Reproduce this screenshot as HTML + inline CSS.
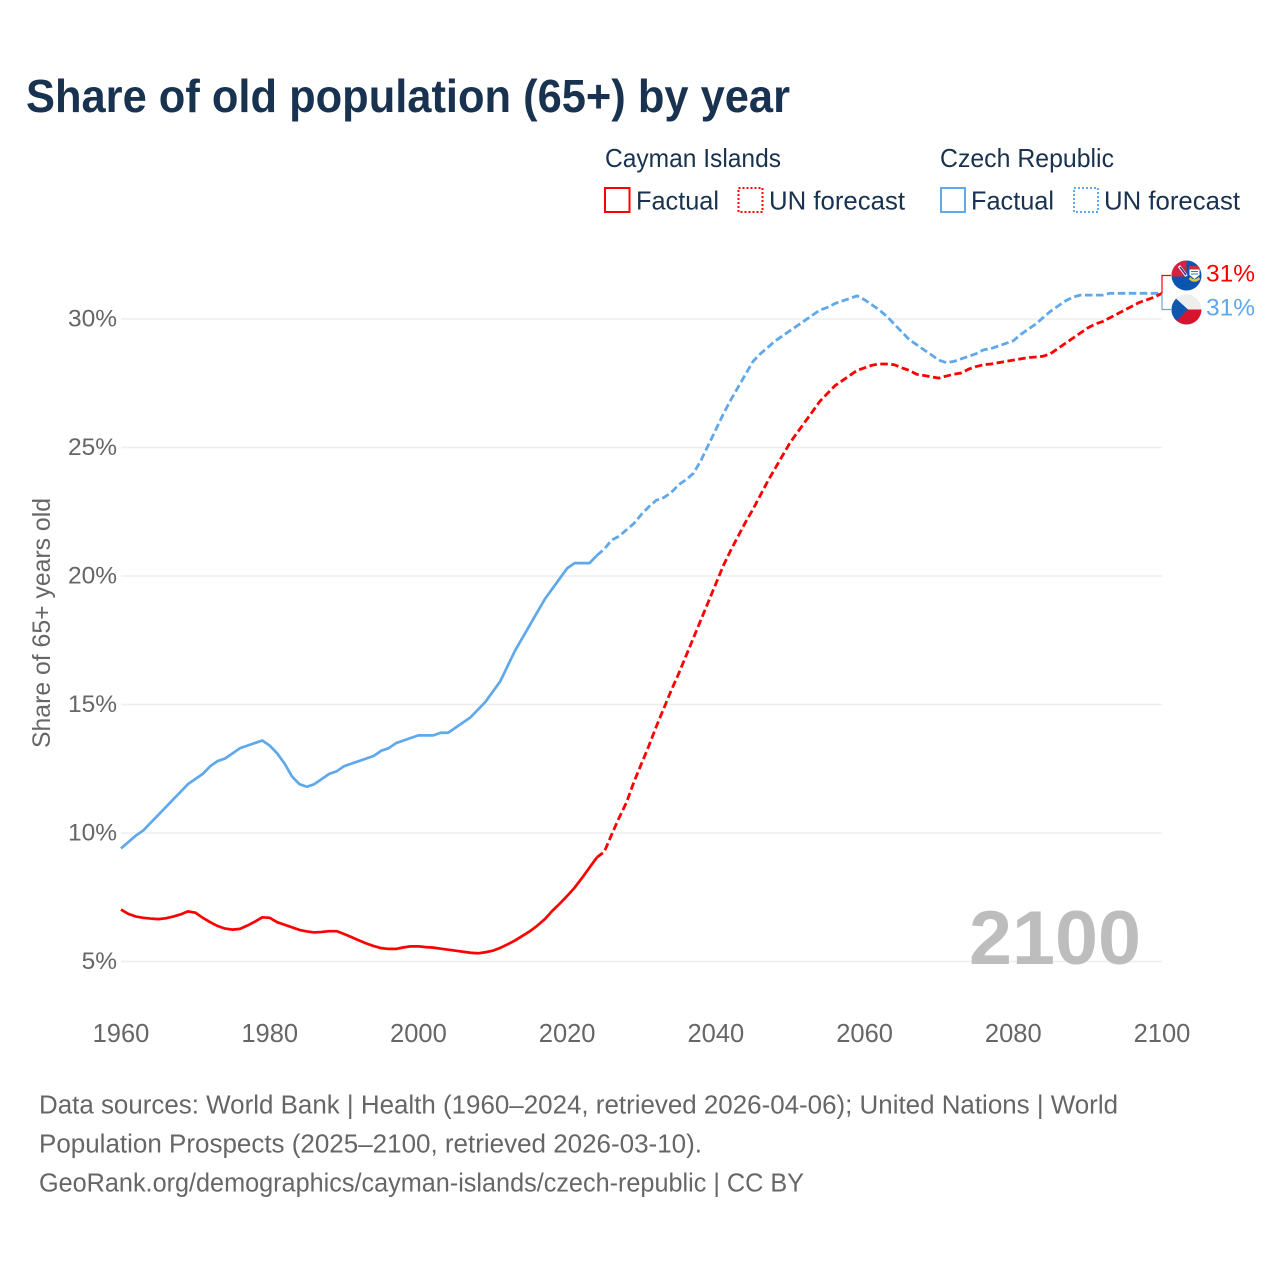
<!DOCTYPE html>
<html lang="en">
<head>
<meta charset="utf-8">
<title>Share of old population (65+) by year</title>
<style>
html,body{margin:0;padding:0;background:#fff;width:1280px;height:1280px;overflow:hidden}
svg{display:block}
text{font-family:"Liberation Sans",sans-serif}
</style>
</head>
<body>
<svg id="chart" width="1280" height="1280" viewBox="0 0 1280 1280" xmlns="http://www.w3.org/2000/svg">
  <rect width="1280" height="1280" fill="#fff"/>
  <text x="26" y="112" font-size="46" font-weight="700" fill="#18324f" textLength="764" lengthAdjust="spacingAndGlyphs">Share of old population (65+) by year</text>

  <g font-size="26" fill="#18324f">
    <text x="605" y="167" textLength="176" lengthAdjust="spacingAndGlyphs">Cayman Islands</text>
    <rect x="605" y="188" width="24.5" height="24" fill="none" stroke="#ff0000" stroke-width="2"/>
    <text x="636" y="209.5" textLength="83" lengthAdjust="spacingAndGlyphs">Factual</text>
    <rect x="738.5" y="188" width="24" height="24" fill="none" stroke="#ff0000" stroke-width="2" stroke-dasharray="2 2"/>
    <text x="769" y="209.5" textLength="136" lengthAdjust="spacingAndGlyphs">UN forecast</text>

    <text x="940" y="167" textLength="174" lengthAdjust="spacingAndGlyphs">Czech Republic</text>
    <rect x="941" y="188" width="24" height="24" fill="none" stroke="#5fa8ec" stroke-width="2"/>
    <text x="971" y="209.5" textLength="83" lengthAdjust="spacingAndGlyphs">Factual</text>
    <rect x="1074" y="188" width="24" height="24" fill="none" stroke="#5fa8ec" stroke-width="2" stroke-dasharray="2 2"/>
    <text x="1104" y="209.5" textLength="136" lengthAdjust="spacingAndGlyphs">UN forecast</text>
  </g>

  <g id="grid"></g>
  <g id="y-ticks"></g>
  <g id="x-ticks"></g>
  <text transform="translate(50,748) rotate(-90)" x="0" y="0" font-size="25" fill="#666" textLength="250" lengthAdjust="spacingAndGlyphs">Share of 65+ years old</text>

  <text x="969" y="964" font-size="76" font-weight="700" fill="#bdbdbd" textLength="172" lengthAdjust="spacingAndGlyphs">2100</text>

  <g id="series"></g>
  <g id="connectors"></g>

  <defs>
    <clipPath id="flag-clip-top"><circle cx="1186.5" cy="275.5" r="15"/></clipPath>
    <clipPath id="flag-clip-bottom"><circle cx="1186.5" cy="309.5" r="15"/></clipPath>
  </defs>
  <g clip-path="url(#flag-clip-top)">
    <rect x="1171" y="260" width="32" height="32" fill="#0a55b0"/>
    <rect x="1171" y="260" width="15.5" height="16.5" fill="#d8213f"/>
    <path d="M1179 266 L1186.5 276" stroke="#fff" stroke-width="3"/>
    <path d="M1180 267 L1186 275" stroke="#2b3f8f" stroke-width="1.5"/>
    <rect x="1189" y="266" width="11" height="3.5" fill="#c8333f"/>
    <path d="M1189.5 269.5 H1199.5 V275 L1194.5 279 L1189.5 275 Z" fill="#fff"/>
    <path d="M1191 271.5 H1198 M1191 274 H1198" stroke="#3a78c0" stroke-width="1.1"/>
    <path d="M1189.5 278 Q1194.5 283 1199.5 278" fill="none" stroke="#e9c43c" stroke-width="2.4"/>
  </g>
  <g clip-path="url(#flag-clip-bottom)">
    <rect x="1171" y="294" width="32" height="15.5" fill="#eeeeee"/>
    <rect x="1171" y="309.5" width="32" height="16" fill="#d7142f"/>
    <path d="M1171 294 L1188 309.5 L1171 326 Z" fill="#0f56b3"/>
  </g>

  <g id="end-labels"></g>

  <g font-size="25.5" fill="#666">
    <text x="39" y="1113.5" textLength="1079" lengthAdjust="spacingAndGlyphs">Data sources: World Bank | Health (1960–2024, retrieved 2026-04-06); United Nations | World</text>
    <text x="39" y="1152.5" textLength="663" lengthAdjust="spacingAndGlyphs">Population Prospects (2025–2100, retrieved 2026-03-10).</text>
    <text x="39" y="1191.5" textLength="765" lengthAdjust="spacingAndGlyphs">GeoRank.org/demographics/cayman-islands/czech-republic | CC BY</text>
  </g>
</svg>

<script>
const firstFactualYear = 1960;
const firstForecastYear = 2024;
const xTickYears = [1960, 1980, 2000, 2020, 2040, 2060, 2080, 2100];
const yTickValues = [5, 10, 15, 20, 25, 30];

const caymanFactual = [
  7.02, 6.85, 6.75, 6.70, 6.67, 6.65, 6.68, 6.75, 6.83, 6.95,
  6.90, 6.70, 6.53, 6.38, 6.28, 6.24, 6.27, 6.40, 6.55, 6.72,
  6.70, 6.53, 6.43, 6.33, 6.23, 6.17, 6.13, 6.15, 6.18, 6.18,
  6.07, 5.95, 5.82, 5.70, 5.60, 5.52, 5.49, 5.49, 5.55, 5.59,
  5.59, 5.56, 5.54, 5.50, 5.46, 5.42, 5.38, 5.34, 5.32, 5.36,
  5.42, 5.53, 5.67, 5.82, 6.00, 6.18, 6.40, 6.65, 6.97, 7.25,
  7.55, 7.87, 8.25, 8.65, 9.05
];
const caymanForecast = [
  9.05, 9.27, 9.95, 10.6, 11.2, 12.0, 12.7, 13.4, 14.15, 14.85,
  15.55, 16.2, 16.9, 17.6, 18.3, 19.0, 19.7, 20.4, 21.0, 21.55,
  22.1, 22.6, 23.15, 23.7, 24.2, 24.7, 25.2, 25.6, 26.0, 26.4,
  26.8, 27.1, 27.4, 27.6, 27.8, 28.0, 28.1, 28.2, 28.25, 28.25,
  28.22, 28.1, 28.0, 27.85, 27.8, 27.75, 27.7, 27.78, 27.85, 27.9,
  28.05, 28.15, 28.22, 28.25, 28.3, 28.35, 28.4, 28.45, 28.5, 28.52,
  28.55, 28.65, 28.85, 29.05, 29.25, 29.45, 29.65, 29.8, 29.9, 30.05,
  30.2, 30.35, 30.5, 30.65, 30.75, 30.85, 31.0
];
const czechFactual = [
  9.4, 9.65, 9.9, 10.1, 10.4, 10.7, 11.0, 11.3, 11.6, 11.9,
  12.1, 12.3, 12.6, 12.8, 12.9, 13.1, 13.3, 13.4, 13.5, 13.6,
  13.4, 13.1, 12.7, 12.2, 11.9, 11.8, 11.9, 12.1, 12.3, 12.4,
  12.6, 12.7, 12.8, 12.9, 13.0, 13.2, 13.3, 13.5, 13.6, 13.7,
  13.8, 13.8, 13.8, 13.9, 13.9, 14.1, 14.3, 14.5, 14.8, 15.1,
  15.5, 15.9, 16.5, 17.1, 17.6, 18.1, 18.6, 19.1, 19.5, 19.9,
  20.3, 20.5, 20.5, 20.5, 20.8
];
const czechForecast = [
  20.8, 21.05, 21.4, 21.55, 21.8, 22.05, 22.4, 22.7, 22.95, 23.05,
  23.25, 23.55, 23.75, 24.0, 24.5, 25.1, 25.7, 26.3, 26.85, 27.35,
  27.85, 28.35, 28.65, 28.9, 29.15, 29.35, 29.55, 29.75, 29.95, 30.15,
  30.35, 30.45, 30.6, 30.7, 30.8, 30.9, 30.75, 30.55, 30.35, 30.1,
  29.8, 29.5, 29.2, 29.0, 28.8, 28.6, 28.4, 28.3, 28.35, 28.45,
  28.55, 28.65, 28.8, 28.85, 28.95, 29.05, 29.15, 29.4, 29.6, 29.8,
  30.05, 30.3, 30.5, 30.7, 30.85, 30.93, 30.93, 30.93, 30.93, 31.0,
  31.0, 31.0, 31.0, 31.0, 31.0, 31.0, 31.0
];

const NS = 'http://www.w3.org/2000/svg';
const RED = '#ff0000';
const BLUE = '#5fa8ec';
const xScale = function (year) { return 121 + (year - 1960) * (1162 - 121) / 140; };
const yScale = function (value) { return 961.5 - (value - 5) * 25.7; };

function make(tag, parentId) {
  const el = document.createElementNS(NS, tag);
  document.getElementById(parentId).appendChild(el);
  return el;
}
function linePath(values, startYear) {
  return values.map(function (v, i) {
    return (i ? 'L' : 'M') + xScale(startYear + i).toFixed(2) + ' ' + yScale(v).toFixed(2);
  }).join(' ');
}
function addAttrs(el, attrs) {
  Object.keys(attrs).forEach(function (k) { el.setAttribute(k, attrs[k]); });
}

yTickValues.forEach(function (v) {
  const line = make('line', 'grid');
  
  
  addAttrs(line, { x1: xScale(1960), x2: xScale(2100), y1: yScale(v), y2: yScale(v), stroke: '#eeeeee', 'stroke-width': 1.5 });
  const label = make('text', 'y-ticks');
  
  
  addAttrs(label, { x: 117, y: yScale(v) + 7.5, 'text-anchor': 'end', 'font-size': 24.5, fill: '#666' });
  label.textContent = v + '%';
});

xTickYears.forEach(function (y) {
  const label = make('text', 'x-ticks');
  
  
  addAttrs(label, { x: xScale(y), y: 1042, 'text-anchor': 'middle', 'font-size': 25.5, fill: '#666' });
  label.textContent = y;
});

const czechFactualLine = make('path', 'series');


addAttrs(czechFactualLine, { d: linePath(czechFactual, firstFactualYear), fill: 'none', stroke: BLUE, 'stroke-width': 2.7, 'stroke-linejoin': 'round' });

const czechForecastLine = make('path', 'series');


addAttrs(czechForecastLine, { d: linePath(czechForecast, firstForecastYear), fill: 'none', stroke: BLUE, 'stroke-width': 2.8, 'stroke-dasharray': '7.5 3.5', 'stroke-linejoin': 'round' });

const caymanFactualLine = make('path', 'series');


addAttrs(caymanFactualLine, { d: linePath(caymanFactual, firstFactualYear), fill: 'none', stroke: RED, 'stroke-width': 2.7, 'stroke-linejoin': 'round' });

const caymanForecastLine = make('path', 'series');


addAttrs(caymanForecastLine, { d: linePath(caymanForecast, firstForecastYear), fill: 'none', stroke: RED, 'stroke-width': 2.8, 'stroke-dasharray': '7.5 3.5', 'stroke-linejoin': 'round' });

const endX = xScale(2100);
const caymanEnd = caymanForecast[caymanForecast.length - 1];
const czechEnd = czechForecast[czechForecast.length - 1];

const czechConnector = make('path', 'connectors');


addAttrs(czechConnector, { d: 'M' + endX + ' ' + yScale(czechEnd) + ' V309.5 H1171', fill: 'none', stroke: BLUE, 'stroke-width': 1.2 });

const caymanConnector = make('path', 'connectors');


addAttrs(caymanConnector, { d: 'M' + endX + ' ' + yScale(caymanEnd) + ' V275.5 H1171', fill: 'none', stroke: RED, 'stroke-width': 1.2 });

const caymanLabel = make('text', 'end-labels');


addAttrs(caymanLabel, { x: 1206, y: 281.5, 'font-size': 24.5, fill: RED });
caymanLabel.textContent = Math.round(caymanEnd) + '%';

const czechLabel = make('text', 'end-labels');


addAttrs(czechLabel, { x: 1206, y: 315.5, 'font-size': 24.5, fill: BLUE });
czechLabel.textContent = Math.round(czechEnd) + '%';
</script>
</body>
</html>
